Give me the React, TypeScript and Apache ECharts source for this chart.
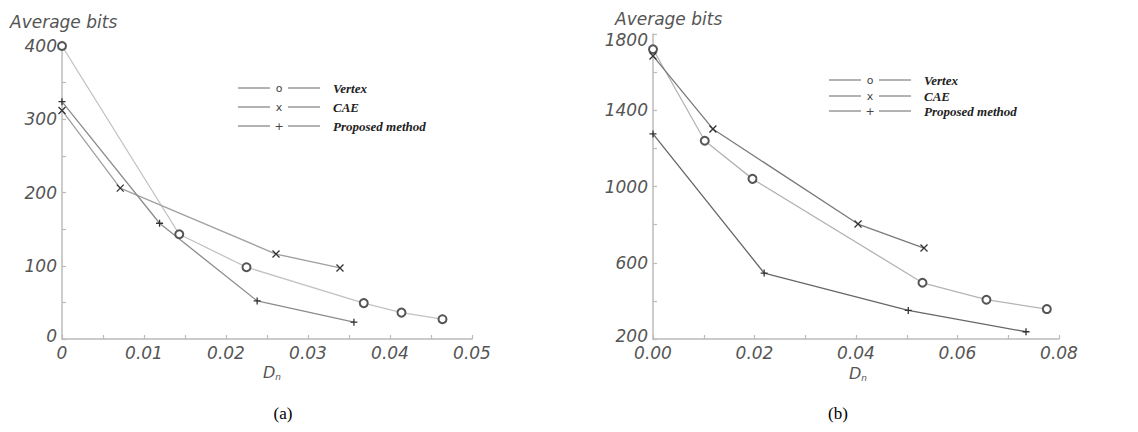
import React, { useEffect, useRef } from "react";
import * as echarts from "echarts";

// ---- data: chart (a) ----
const vertexAX = [0, 0.0143, 0.0225, 0.0368, 0.0414, 0.0464];
const vertexAY = [400, 143, 98, 49, 36, 27];
const caeAX = [0, 0.0071, 0.0261, 0.0339];
const caeAY = [312, 206, 116, 97];
const propAX = [0, 0.0119, 0.0238, 0.0356];
const propAY = [324, 158, 52, 23];

// ---- data: chart (b) ----
const vertexBX = [0, 0.0102, 0.0196, 0.0531, 0.0657, 0.0776];
const vertexBY = [1720, 1240, 1040, 495, 406, 357];
const caeBX = [0, 0.0118, 0.0404, 0.0534];
const caeBY = [1685, 1302, 803, 677];
const propBX = [0, 0.0219, 0.0503, 0.0735];
const propBY = [1276, 546, 350, 238];

const seriesNames = ["Vertex", "CAE", "Proposed method"];
const legendGlyphs = ["o", "x", "+"];
const captions = ["(a)", "(b)"];
const yTitle = "Average bits";

const pair = (xs: number[], ys: number[]) => xs.map((x, i) => [x, ys[i]]);

const X_SYM = "path://M0 0L10 10M10 0L0 10";
const PLUS_SYM = "path://M5 0L5 10M0 5L10 5";

const axisLabelStyle = {
  fontStyle: "italic" as const,
  fontFamily: "DejaVu Sans",
  fontSize: 17,
  color: "#555",
};

function axisCommon() {
  return {
    axisLine: { lineStyle: { color: "#bbb", width: 1.5 } },
    axisTick: { inside: true, length: 4, lineStyle: { color: "#bbb", width: 1.2 } },
    splitLine: { show: false },
  };
}

function mkSeries(
  name: string,
  data: number[][],
  xi: number,
  lineColor: string,
  symbol: string
) {
  const isCircle = symbol === "emptyCircle";
  return {
    name,
    type: "line",
    xAxisIndex: xi,
    yAxisIndex: xi,
    data,
    symbol,
    symbolSize: isCircle ? 8 : 7,
    showAllSymbol: true,
    lineStyle: { color: lineColor, width: 1.3 },
    itemStyle: isCircle
      ? { color: "#555", borderColor: "#555", borderWidth: 1.1 }
      : { color: "#333", borderColor: "#333", borderWidth: 1.3 },
    z: 3,
  };
}

function legendGraphic(x0: number, rows: number[]) {
  const els: any[] = [];
  rows.forEach((y, i) => {
    els.push({
      type: "line",
      shape: { x1: x0, y1: y, x2: x0 + 32, y2: y },
      style: { stroke: "#666", lineWidth: 1 },
    });
    els.push({
      type: "text",
      x: x0 + 41,
      y: y,
      style: {
        text: legendGlyphs[i],
        fontFamily: "DejaVu Sans",
        fontSize: 11,
        fill: "#444",
        align: "center",
        verticalAlign: "middle",
      },
    });
    els.push({
      type: "line",
      shape: { x1: x0 + 50, y1: y, x2: x0 + 82, y2: y },
      style: { stroke: "#666", lineWidth: 1 },
    });
    els.push({
      type: "text",
      x: x0 + 95,
      y: y,
      style: {
        text: seriesNames[i],
        fontFamily: "Liberation Serif",
        fontStyle: "italic",
        fontWeight: "bold",
        fontSize: 13,
        fill: "#222",
        align: "left",
        verticalAlign: "middle",
      },
    });
  });
  return els;
}

function dnLabel(x: number, y: number) {
  return {
    type: "text",
    x,
    y,
    style: {
      text: "{d|D}{n|n}",
      rich: {
        d: { fontFamily: "DejaVu Sans", fontStyle: "italic", fontSize: 16, fill: "#555" },
        n: {
          fontFamily: "DejaVu Sans",
          fontStyle: "italic",
          fontSize: 9,
          fill: "#555",
          padding: [9, 0, 0, 0],
        },
      },
      align: "center",
      verticalAlign: "middle",
    },
  };
}

function titleText(x: number, y: number) {
  return {
    type: "text",
    x,
    y,
    style: {
      text: yTitle,
      fontFamily: "DejaVu Sans",
      fontStyle: "italic",
      fontSize: 17,
      fill: "#555",
      align: "left",
      verticalAlign: "middle",
    },
  };
}

export default function App() {
  const ref = useRef<HTMLDivElement>(null);
  useEffect(() => {
    if (!ref.current) return;
    const chart = echarts.init(ref.current, undefined, { renderer: "svg" });
    const option: any = {
      animation: false,
      backgroundColor: "#fff",
      grid: [
        { left: 62, top: 46, width: 410, height: 293 },
        { left: 653, top: 34, width: 406, height: 305 },
      ],
      xAxis: [
        {
          type: "value",
          gridIndex: 0,
          min: 0,
          max: 0.05,
          interval: 0.005,
          ...axisCommon(),
          axisLabel: {
            ...axisLabelStyle,
            margin: 5,
            formatter: (v: number) => {
              const k = Math.round(v * 1000);
              if (k % 10 !== 0) return "";
              return k === 0 ? "0" : v.toFixed(2);
            },
          },
        },
        {
          type: "value",
          gridIndex: 1,
          min: 0,
          max: 0.08,
          interval: 0.01,
          ...axisCommon(),
          axisLabel: {
            ...axisLabelStyle,
            margin: 5,
            formatter: (v: number) => {
              const k = Math.round(v * 100);
              return k % 2 === 0 ? v.toFixed(2) : "";
            },
          },
        },
      ],
      yAxis: [
        {
          type: "value",
          gridIndex: 0,
          min: 0,
          max: 400,
          interval: 50,
          ...axisCommon(),
          axisLabel: {
            ...axisLabelStyle,
            margin: 5,
            formatter: (v: number) => {
              if (v % 100 !== 0) return "";
              return v === 0 ? "{bot|0}" : String(v);
            },
            rich: {
              bot: { ...axisLabelStyle, padding: [0, 0, 6, 0] },
            },
          },
        },
        {
          type: "value",
          gridIndex: 1,
          min: 200,
          max: 1800,
          interval: 200,
          ...axisCommon(),
          axisLabel: {
            ...axisLabelStyle,
            margin: 5,
            formatter: (v: number) => {
              if ((v - 200) % 400 !== 0) return "";
              if (v === 1800) return "{top|1800}";
              if (v === 200) return "{bot|200}";
              return String(v);
            },
            rich: {
              top: { ...axisLabelStyle, padding: [12, 0, 0, 0] },
              bot: { ...axisLabelStyle, padding: [0, 0, 6, 0] },
            },
          },
        },
      ],
      series: [
        mkSeries(seriesNames[0], pair(vertexAX, vertexAY), 0, "#c2c2c2", "emptyCircle"),
        mkSeries(seriesNames[1], pair(caeAX, caeAY), 0, "#a0a0a0", X_SYM),
        mkSeries(seriesNames[2], pair(propAX, propAY), 0, "#8c8c8c", PLUS_SYM),
        mkSeries(seriesNames[0], pair(vertexBX, vertexBY), 1, "#b4b4b4", "emptyCircle"),
        mkSeries(seriesNames[1], pair(caeBX, caeBY), 1, "#7a7a7a", X_SYM),
        mkSeries(seriesNames[2], pair(propBX, propBY), 1, "#666", PLUS_SYM),
      ],
      graphic: [
        titleText(10, 22),
        titleText(615, 19),
        dnLabel(272, 372),
        dnLabel(858, 373),
        ...legendGraphic(238, [88, 107, 126]),
        ...legendGraphic(829, [80, 96, 111]),
        {
          type: "text",
          x: 283,
          y: 413,
          style: {
            text: captions[0],
            fontFamily: "Liberation Serif",
            fontSize: 17,
            fill: "#000",
            align: "center",
            verticalAlign: "middle",
          },
        },
        {
          type: "text",
          x: 838,
          y: 413,
          style: {
            text: captions[1],
            fontFamily: "Liberation Serif",
            fontSize: 17,
            fill: "#000",
            align: "center",
            verticalAlign: "middle",
          },
        },
      ],
    };
    chart.setOption(option);
    return () => chart.dispose();
  }, []);
  return (
    <div
      ref={ref}
      style={{ position: "fixed", left: 0, top: 0, width: 1138, height: 432 }}
    />
  );
}
